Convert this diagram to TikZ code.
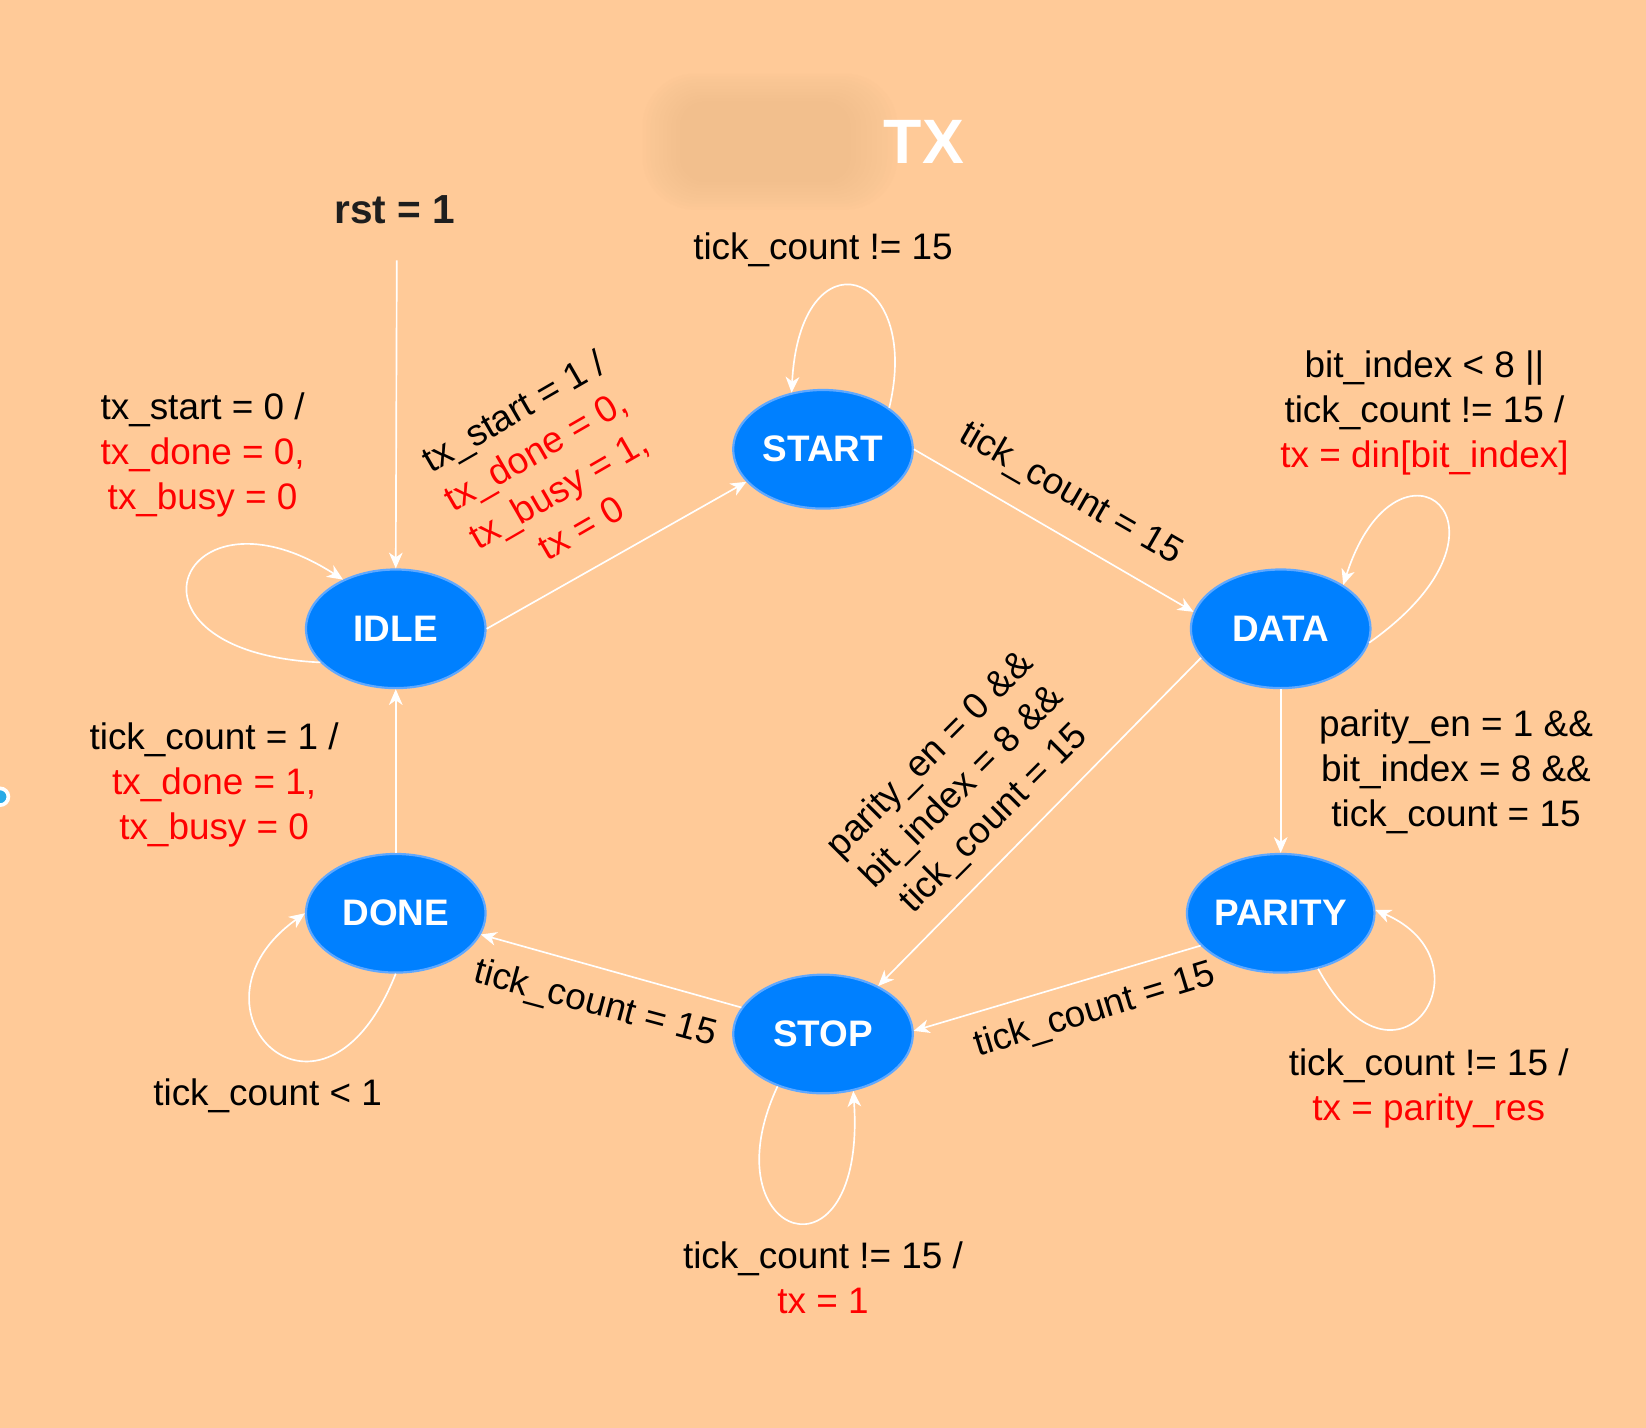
\documentclass[tikz,border=0pt]{standalone}
\usepackage{fontspec}
\setmainfont{Liberation Sans}
\usetikzlibrary{arrows.meta,shapes.geometric}
\definecolor{peach}{RGB}{255,202,152}
\definecolor{stateblue}{RGB}{0,128,255}
\definecolor{rimblue}{RGB}{95,168,255}
\definecolor{smudge}{RGB}{238,188,138}
\definecolor{dotblue}{RGB}{40,170,230}
\begin{document}
\begin{tikzpicture}[
  state/.style={ellipse,fill=stateblue,draw=rimblue,line width=0.6pt,minimum width=1.71cm,minimum height=1.13cm,inner sep=0pt,text=white,font=\fontsize{10}{12}\selectfont\bfseries},
  trans/.style={draw=white,line width=0.45pt,-{Stealth[length=1.5mm,width=1.3mm,inset=0.45mm]}},
  lbl/.style={align=center,inner sep=0pt,font=\fontsize{10}{12.2}\selectfont},
]
\useasboundingbox (0,0) rectangle (15.68,-13.60);
\fill[peach] (0,0) rectangle (15.68,-13.60);

\foreach \i in {0,...,9}
  \fill[smudge,opacity=0.08,rounded corners=0.5cm-\i*0.3mm] (6.12+\i*0.04,-0.70-\i*0.03) rectangle (8.55-\i*0.05,-2.00+\i*0.03);
\node[font=\fontsize{17}{20}\selectfont\bfseries,text=white] (title) at (8.80,-1.35) {TX};

\filldraw[fill=dotblue,draw=white,line width=1pt] (0,-7.59) circle (0.08);
\filldraw[fill=dotblue,draw=white,line width=1pt] (15.78,-7.59) circle (0.08);

\node[state] (idle) at (3.77,-5.99) {IDLE};
\node[state] (start) at (7.84,-4.28) {START};
\node[state] (data) at (12.20,-5.99) {DATA};
\node[state] (parity) at (12.20,-8.70) {PARITY};
\node[state] (stop) at (7.84,-9.85) {STOP};
\node[state] (done) at (3.77,-8.70) {DONE};

\node[font=\fontsize{11}{13}\selectfont\bfseries,text={rgb,255:red,30;green,30;blue,30}] (rstlbl) at (3.76,-2.00) {rst = 1};
\coordinate (rst) at (3.78,-2.48);

\draw[trans] (rst) -- (idle.north);
\draw[trans] (idle.east) -- (start.203);
\draw[trans] (start.east) -- (data.169);
\draw[trans] (data.south) -- (parity.north);
\draw[trans] (data.200) -- (stop.41);
\draw[trans] (parity.202) -- (stop.2);
\draw[trans] (stop.162) -- (done.346);
\draw[trans] (done.north) -- (idle.south);

\draw[trans] (idle.204) .. controls +(-2.06,0.10) and +(-1.55,1.00) .. (idle.137);
\draw[trans] (start.32) .. controls +(0.32,1.34) and +(0.08,1.54) .. (start.119);
\draw[trans] (data.351) .. controls +(1.60,1.13) and +(0.51,1.60) .. (data.35);
\draw[trans] (parity.304) .. controls +(0.75,-1.38) and +(1.15,-0.50) .. (parity.2);
\draw[trans] (stop.229) .. controls +(-0.68,-1.46) and +(0.13,-1.92) .. (stop.298);
\draw[trans] (done.270) .. controls +(-0.70,-1.76) and +(-1.26,-0.90) .. (done.180);

\node[lbl] (idleloop) at (1.93,-4.33) {tx\_start = 0 /\\\textcolor{red}{tx\_done = 0,}\\\textcolor{red}{tx\_busy = 0}};
\node[lbl,rotate=30] (idlestart) at (5.21,-4.47) {tx\_start = 1 /\\\textcolor{red}{tx\_done = 0,}\\\textcolor{red}{tx\_busy = 1,}\\\textcolor{red}{tx = 0}};
\node[lbl] (startloop) at (7.84,-2.38) {tick\_count != 15};
\node[lbl,rotate=-30] (startdata) at (10.20,-4.71) {tick\_count = 15};
\node[lbl] (dataloop) at (13.57,-3.93) {bit\_index < 8 ||\\tick\_count != 15 /\\\textcolor{red}{tx = din[bit\_index]}};
\node[lbl] (dataparity) at (13.87,-7.35) {parity\_en = 1 \&\&\\bit\_index = 8 \&\&\\tick\_count = 15};
\node[lbl,rotate=45] (datastop) at (9.17,-7.50) {parity\_en = 0 \&\&\\bit\_index = 8 \&\&\\tick\_count = 15};
\node[lbl] (parityloop) at (13.61,-10.37) {tick\_count != 15 /\\\textcolor{red}{tx = parity\_res}};
\node[lbl,rotate=17] (paritystop) at (10.43,-9.63) {tick\_count = 15};
\node[lbl] (stoploop) at (7.84,-12.17) {tick\_count != 15 /\\\textcolor{red}{tx = 1}};
\node[lbl,rotate=-15] (stopdone) at (5.67,-9.57) {tick\_count = 15};
\node[lbl] (doneloop) at (2.55,-10.44) {tick\_count < 1};
\node[lbl] (doneidle) at (2.04,-7.48) {tick\_count = 1 /\\\textcolor{red}{tx\_done = 1,}\\\textcolor{red}{tx\_busy = 0}};
\end{tikzpicture}
\end{document}
